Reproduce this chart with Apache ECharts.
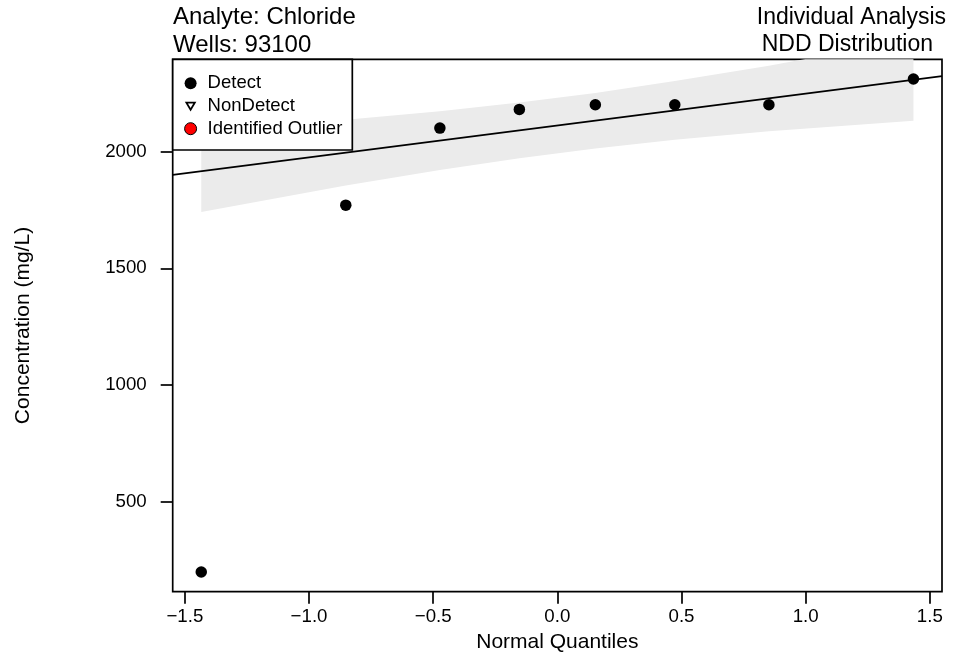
<!DOCTYPE html>
<html>
<head>
<meta charset="utf-8">
<script src="https://cdn.jsdelivr.net/npm/echarts@6/dist/echarts.min.js"></script>
<style>
  html, body { margin: 0; padding: 0; background: #fff; }
  #chart { width: 957px; height: 658px; }
</style>
</head>
<body>
<div id="chart"></div>
<script>
// normal quantiles and observed concentrations (mg/L)
const quantiles = [-1.434, -0.852, -0.473, -0.153, 0.153, 0.473, 0.852, 1.434]
const concentration = [200, 1770, 2100, 2180, 2200, 2200, 2200, 2310]

// fitted line, read at the plot edges
const fitX = [-1.549, 1.549]
const fitY = [1900, 2322]

// shaded confidence band at each quantile
const bandLower = [1741, 1854, 1921, 1971, 2013, 2050, 2086, 2131]
const bandUpper = [2091, 2136, 2172, 2209, 2250, 2301, 2367, 2481]

const xTicks = [-1.5, -1.0, -0.5, 0.0, 0.5, 1.0, 1.5]
const yTicks = [500, 1000, 1500, 2000]

const FONT = "'Liberation Sans', Arial, Helvetica, sans-serif"
// down-pointing triangle, padded with move-to points so it draws smaller than the circles
const triangleIcon = 'path://M0,0 M12,12 M1.8,2.6 L10.2,2.6 L6,9.8 Z'

const chart = echarts.init(document.getElementById('chart'))

const leftTitle = { fontFamily: FONT, fontSize: 24, fontWeight: 'normal', color: '#000' }
const rightTitle = { fontFamily: FONT, fontSize: 23, fontWeight: 'normal', color: '#000' }

const option = {
  animation: false,
  backgroundColor: '#fff',
  textStyle: { fontFamily: FONT, color: '#000' },
  title: [
    { text: 'Analyte: Chloride', left: 173, top: 5.7, padding: 0, textStyle: leftTitle },
    { text: 'Wells: 93100', left: 173, top: 33, padding: 0, textStyle: leftTitle },
    { text: 'Individual Analysis', right: 11, top: 6, padding: 0, textStyle: rightTitle },
    { text: 'NDD Distribution', right: 24, top: 33.5, padding: 0, textStyle: rightTitle }
  ],
  legend: {
    orient: 'vertical',
    left: 172.7,
    top: 59.3,
    z: 10,
    selectedMode: false,
    backgroundColor: '#fff',
    borderColor: '#000',
    borderWidth: 1.7,
    borderRadius: 0,
    padding: [14, 10, 11.3, 11],
    itemWidth: 24,
    itemHeight: 12,
    itemGap: 2.7,
    textStyle: { fontFamily: FONT, fontSize: 18.5, color: '#000', lineHeight: 20 },
    data: [
      { name: 'Detect', icon: 'circle', itemStyle: { color: '#000', borderWidth: 0, opacity: 1 } },
      { name: 'NonDetect', icon: triangleIcon, itemStyle: { color: '#fff', borderColor: '#000', borderWidth: 1.8, opacity: 1 } },
      { name: 'Identified Outlier', icon: 'circle', itemStyle: { color: '#ff0000', borderColor: '#000', borderWidth: 1, opacity: 1 } }
    ]
  },
  grid: {
    left: 172.7,
    right: 15,
    top: 59.3,
    bottom: 66.3,
    containLabel: false,
    outerBoundsMode: 'none',
    show: true,
    borderColor: '#000',
    borderWidth: 1.7,
    backgroundColor: 'transparent'
  },
  xAxis: {
    type: 'value',
    min: -1.549,
    max: 1.549,
    name: 'Normal Quantiles',
    nameLocation: 'middle',
    nameGap: 40.5,
    nameTextStyle: { fontFamily: FONT, fontSize: 21, color: '#000' },
    axisLine: { show: false, onZero: false },
    splitLine: { show: false },
    axisTick: { show: true, length: 12, customValues: xTicks, lineStyle: { color: '#000', width: 1.7 } },
    axisLabel: {
      customValues: xTicks,
      margin: 15.5,
      fontFamily: FONT,
      fontSize: 18.7,
      color: '#000',
      formatter: v => v.toFixed(1).replace('-', '\u2212')
    }
  },
  yAxis: {
    type: 'value',
    min: 115.6,
    max: 2394.4,
    name: 'Concentration (mg/L)',
    nameLocation: 'middle',
    nameGap: 139,
    nameTextStyle: { fontFamily: FONT, fontSize: 21, color: '#000' },
    axisLine: { show: false, onZero: false },
    splitLine: { show: false },
    axisTick: { show: true, length: 12, customValues: yTicks, lineStyle: { color: '#000', width: 1.7 } },
    axisLabel: {
      customValues: yTicks,
      margin: 26,
      fontFamily: FONT,
      fontSize: 18.7,
      color: '#000',
      formatter: v => String(v)
    }
  },
  series: [
    {
      name: 'band',
      type: 'custom',
      z: 1,
      clip: true,
      silent: true,
      data: [[quantiles[0], bandLower[0]]],
      renderItem: (params, api) => {
        const pts = []
        for (let i = 0; i < quantiles.length; i++) pts.push(api.coord([quantiles[i], bandUpper[i]]))
        for (let i = quantiles.length - 1; i >= 0; i--) pts.push(api.coord([quantiles[i], bandLower[i]]))
        return { type: 'polygon', shape: { points: pts }, style: { fill: '#ebebeb' } }
      }
    },
    {
      name: 'fit',
      type: 'line',
      z: 2,
      silent: true,
      symbol: 'none',
      data: fitX.map((x, i) => [x, fitY[i]]),
      lineStyle: { color: '#000', width: 1.7 }
    },
    {
      name: 'Detect',
      type: 'scatter',
      z: 3,
      symbol: 'circle',
      symbolSize: 11.5,
      data: quantiles.map((q, i) => [q, concentration[i]]),
      itemStyle: { color: '#000', opacity: 1 }
    },
    {
      name: 'NonDetect',
      type: 'scatter',
      symbol: triangleIcon,
      symbolSize: 12,
      data: [],
      itemStyle: { color: '#fff', borderColor: '#000', borderWidth: 1.8, opacity: 1 }
    },
    {
      name: 'Identified Outlier',
      type: 'scatter',
      symbol: 'circle',
      symbolSize: 12,
      data: [],
      itemStyle: { color: '#ff0000', borderColor: '#000', borderWidth: 1, opacity: 1 }
    }
  ]
}

chart.setOption(option)
</script>
</body>
</html>
